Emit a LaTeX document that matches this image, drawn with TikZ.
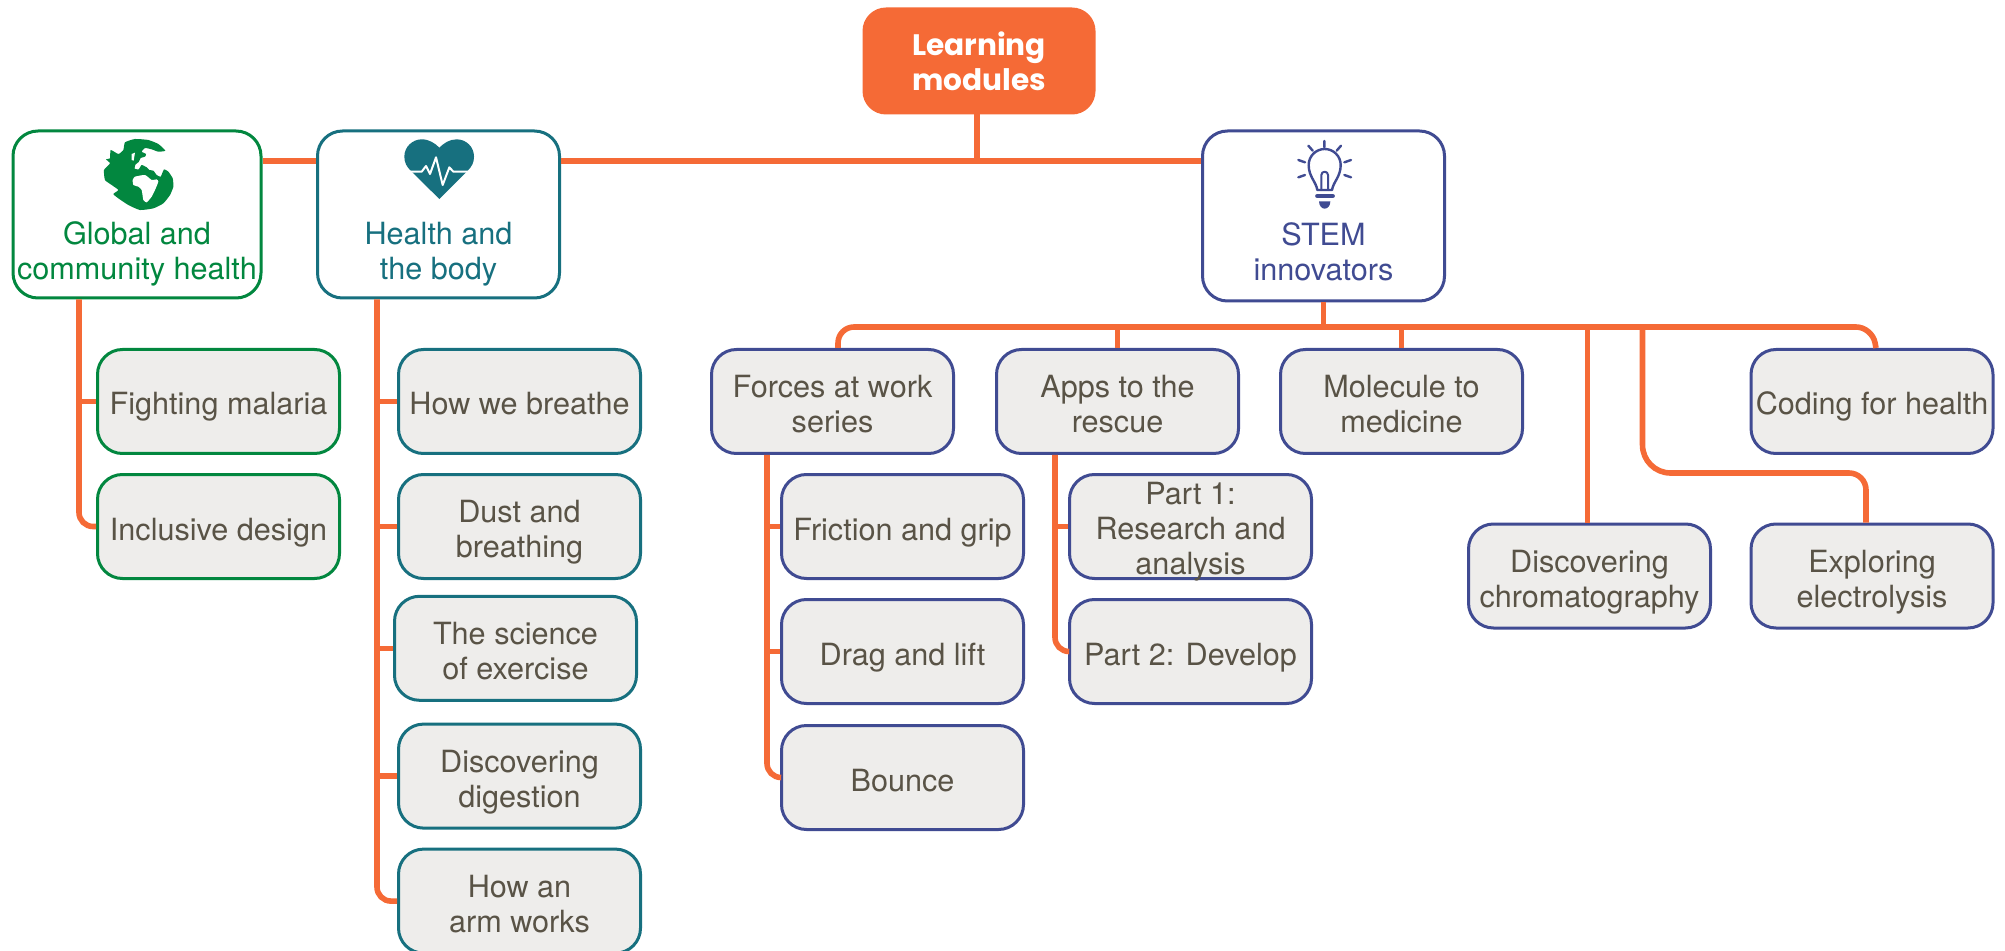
\documentclass[tikz,border=0pt]{standalone}
\usepackage{fontspec}
\setmainfont{TeX Gyre Heros}
\newfontfamily\titlefont{Poppins}
\usepackage{tikz}
\usetikzlibrary{positioning}
\definecolor{orangeline}{HTML}{F56A36}
\definecolor{greenmod}{HTML}{02873F}
\definecolor{tealmod}{HTML}{17707F}
\definecolor{navymod}{HTML}{404B92}
\definecolor{greybox}{HTML}{EEEDEB}
\definecolor{greytext}{HTML}{595346}

\begin{document}
\begin{tikzpicture}[x=0.5pt,y=-0.5pt]
	\tikzstyle{every node}=[font=\fontsize{15.3}{17.5}\selectfont,align=center,inner sep=0pt]

	\tikzstyle{modbox}=[draw,line width=1.5pt,rounded corners=12.5pt,minimum width=121pt,minimum height=52pt]
	\tikzstyle{subgreen}=[modbox,draw=greenmod,fill=greybox,text=greytext]
	\tikzstyle{subteal}=[modbox,draw=tealmod,fill=greybox,text=greytext]
	\tikzstyle{subnavy}=[modbox,draw=navymod,fill=greybox,text=greytext]
	\tikzstyle{headbox}=[modbox,fill=white,minimum height=83.5pt,text height=68.5pt,text depth=3pt]
	\tikzstyle{oneline}=[text height=16.5pt,text depth=3pt]
	\tikzstyle{twoline}=[text height=34pt,text depth=3pt]
	\tikzstyle{threeline}=[text height=48.4pt,text depth=0pt]
	\tikzstyle{l}=[draw=orangeline,line width=2.8pt,rounded corners=7pt]
	\tikzstyle{icon}=[line cap=round,line join=round]

	\useasboundingbox (0,0) rectangle (2005,951);
	\clip (0,0) rectangle (2005,951);

	%% Top row
	\node [modbox,draw=orangeline,fill=orangeline,text=white,minimum width=115pt,rounded corners=11pt,
		font=\titlefont\bfseries\fontsize{14.8}{17.5}\selectfont] (title) at (979,61) {Learning\\modules};
	\node [headbox,draw=greenmod,text=greenmod,minimum width=124pt] (global) at (137,214.5) {Global and\\community health};
	\node [headbox,draw=tealmod,text=tealmod] (health) at (438.5,214.5) {Health and\\the body};
	\node [headbox,draw=navymod,text=navymod,minimum height=85pt,text height=68pt] (stem) at (1323.5,216) {STEM\\innovators};

	%% Global and community health
	\node [subgreen,oneline] (fight) at (218.5,401.5) {Fighting malaria};
	\node [subgreen,oneline,below=9pt of fight] (inclusive) {Inclusive design};

	%% Health and the body
	\node [subteal,oneline] (breathe) at (519.5,401.5) {How we breathe};
	\node [subteal,twoline,below=9pt of breathe] (dust) {Dust and\\breathing};
	\node [subteal,twoline,below=7.4pt of dust,xshift=-2pt] (science) {The science\\of exercise};
	\node [subteal,twoline,below=10.4pt of science,xshift=2pt] (digestion) {Discovering\\digestion};
	\node [subteal,twoline,below=9pt of digestion] (arm) {How an\\arm works};

	%% STEM innovators
	\node [subnavy,twoline] (forces) at (832.5,401.5) {Forces at work\\series};
	\node [subnavy,oneline] (friction) at (902.5,526.5) {Friction and grip};
	\node [subnavy,oneline,below=9pt of friction] (drag) {Drag and lift};
	\node [subnavy,oneline,below=9.5pt of drag] (bounce) {Bounce};
	\node [subnavy,twoline] (apps) at (1117.5,401.5) {Apps to the\\rescue};
	\node [subnavy,threeline] (part1) at (1190.5,526.5) {Part 1:\\Research and\\analysis};
	\node [subnavy,oneline,below=9pt of part1] (part2) {Part 2: Develop};
	\node [subnavy,twoline] (molecule) at (1401.5,401.5) {Molecule to\\medicine};
	\node [subnavy,oneline] (coding) at (1872,401.5) {Coding for health};
	\node [subnavy,twoline] (chroma) at (1589.5,576) {Discovering\\chromatography};
	\node [subnavy,twoline] (electro) at (1872,576) {Exploring\\electrolysis};

	%% Connectors
	\coordinate (topbus) at (0,161);
	\coordinate (stembus) at (0,327);
	\coordinate (globaltrunk) at ([xshift=-29pt]global.south);
	\coordinate (healthtrunk) at ([xshift=-30.75pt]health.south);
	\coordinate (forcestrunk) at ([xshift=-32.75pt]forces.south);
	\coordinate (appstrunk) at ([xshift=-31.25pt]apps.south);

	\draw [l] ([xshift=-1pt]title.south) -- ([xshift=-1pt]title.south |- topbus);
	\draw [l] (global.east |- topbus) -- (health.west |- topbus);
	\draw [l] (health.east |- topbus) -- (stem.west |- topbus);

	\draw [l] (globaltrunk) |- (inclusive.west);
	\draw [l] (globaltrunk |- fight.west) -- (fight.west);

	\draw [l] (healthtrunk) |- (arm.west);
	\draw [l] (healthtrunk |- breathe.west) -- (breathe.west);
	\draw [l] (healthtrunk |- dust.west) -- (dust.west);
	\draw [l] (healthtrunk |- science.west) -- (science.west);
	\draw [l] (healthtrunk |- digestion.west) -- (digestion.west);

	\draw [l] (stem.south) -- (stem.south |- stembus);
	\draw [l,rounded corners=8pt] ([xshift=2.75pt]forces.north) |- (stembus -| coding.north) -- ([xshift=2pt]coding.north);
	\draw [l] (apps.north) -- (apps.north |- stembus);
	\draw [l] (molecule.north) -- (molecule.north |- stembus);
	\draw [l] ([xshift=-1pt]chroma.north) -- ([xshift=-1pt]chroma.north |- stembus);
	\draw [l] ([xshift=26.5pt]chroma.north |- stembus) [rounded corners=14pt] -- ([xshift=26.5pt]chroma.north |- 0,473)
		[rounded corners=8.5pt] -- ([xshift=-3pt]electro.north |- 0,473) -- ([xshift=-3pt]electro.north);

	\draw [l] (forcestrunk) |- (bounce.west);
	\draw [l] (forcestrunk |- friction.west) -- (friction.west);
	\draw [l] (forcestrunk |- drag.west) -- (drag.west);

	\draw [l] (appstrunk) |- (part2.west);
	\draw [l] (appstrunk |- part1.west) -- (part1.west);

	%% Icons
	\begin{scope}[shift={(90,130)},x=0.1667pt,y=-0.1667pt]
		\fill [greenmod] plot [smooth cycle,tension=0.3] coordinates {(135,27) (175,30) (205,42) (226,62) (205,65) (185,58) (165,54) (155,65) (168,72) (165,80) (152,84) (146,96) (136,104) (134,116) (146,118) (155,105) (170,112) (178,120) (190,122) (200,135) (212,140) (222,118) (235,125) (248,145) (250,170) (240,195) (220,220) (190,235) (150,240) (115,225) (85,205) (70,192) (85,180) (65,165) (45,150) (42,120) (60,100) (48,88) (60,85) (62,60) (85,72) (100,60) (105,37)};
		\fill [white] plot [smooth cycle,tension=0.3] coordinates {(128,150) (135,140) (165,135) (185,150) (200,148) (205,155) (195,180) (185,200) (170,217) (160,210) (155,180) (145,170) (130,165)};
		\fill [white] (125,72) -- (135,68) -- (131,92) -- (125,90) -- cycle;
	\end{scope}
	\begin{scope}[shift={(390,130)},x=0.1667pt,y=-0.1667pt]
		\fill [tealmod] (148,207) -- (62,122) .. controls (50,110) and (43,98) .. (43,80) .. controls (43,50) and (68,28) .. (95,28) .. controls (118,28) and (135,40) .. (148,53) .. controls (161,40) and (178,28) .. (200,28) .. controls (228,28) and (252,50) .. (252,80) .. controls (252,98) and (245,110) .. (233,122) -- cycle;
		\draw [white,line width=1pt,icon] (58,125) -- (95,125) -- (108,108) -- (120,132) -- (138,82) -- (158,165) -- (178,112) -- (190,125) -- (236,125);
	\end{scope}
	\begin{scope}[shift={(1280,130)},x=0.1667pt,y=-0.1667pt,navymod]
		\draw [line width=1.2pt,icon] (133,33) -- (133,52) (85,47) -- (98,62) (183,47) -- (170,62) (55,90) -- (75,97) (213,90) -- (193,97) (55,142) -- (75,135) (213,142) -- (193,135);
		\draw [line width=1.2pt,icon] (112,180) .. controls (108,155) and (86,140) .. (86,105) .. controls (86,78) and (108,57) .. (134,57) .. controls (160,57) and (182,78) .. (182,105) .. controls (182,140) and (160,155) .. (156,180) -- cycle;
		\draw [line width=1pt,icon] (124,180) -- (124,135) .. controls (124,122) and (144,122) .. (144,135) -- (144,180);
		\draw [line width=2.2pt,icon] (112,198) -- (158,198);
		\fill (117,214) -- (151,214) .. controls (151,228) and (142,236) .. (134,236) .. controls (126,236) and (117,228) .. (117,214) -- cycle;
	\end{scope}
\end{tikzpicture}
\end{document}
